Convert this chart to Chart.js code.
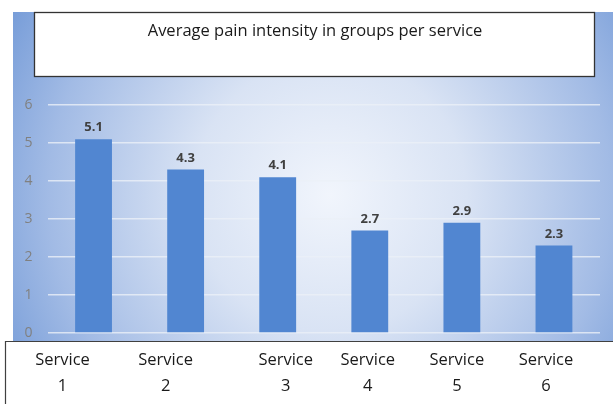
<!DOCTYPE html>
<html>
<head>
<meta charset="utf-8">
<script src="https://cdn.jsdelivr.net/npm/chart.js@4.4.1/dist/chart.umd.min.js"></script>
<style>
html,body{margin:0;padding:0;background:#fff;}
#wrap{width:613px;height:404px;position:relative;}
</style>
</head>
<body>
<div id="wrap"><canvas id="c" width="613" height="404"></canvas></div>
<script>
const titleText = "Average pain intensity in groups per service";
const categories = ["Service 1", "Service 2", "Service 3", "Service 4", "Service 5", "Service 6"];
const painValues = [5.1, 4.3, 4.1, 2.7, 2.9, 2.3];
const yTicks = [0, 1, 2, 3, 4, 5, 6];
// horizontal shift of each label in the bottom box relative to its bar (layout only)
const labelShift = [-31, -20, 8, -2, -5, -8];

const FONT = "'Open Sans', 'Liberation Sans', Arial, sans-serif";

const decor = {
  id: 'decor',
  beforeDraw(chart) {
    const ctx = chart.ctx;
    ctx.save();
    ctx.fillStyle = '#ffffff';
    ctx.fillRect(0, 0, chart.width, chart.height);
    const g = ctx.createRadialGradient(330, 195, 0, 330, 195, 390);
    g.addColorStop(0, '#f1f5fc');
    g.addColorStop(0.35, '#d9e3f4');
    g.addColorStop(0.72, '#a2bbe5');
    g.addColorStop(1, '#6c95d5');
    ctx.fillStyle = g;
    ctx.fillRect(13, 12, chart.width - 13, chart.height - 12);
    ctx.restore();
  },
  afterDraw(chart) {
    const ctx = chart.ctx;
    ctx.save();
    // title box
    ctx.fillStyle = '#ffffff';
    ctx.fillRect(34, 12, 561, 65);
    ctx.strokeStyle = '#333333';
    ctx.lineWidth = 1.3;
    ctx.strokeRect(34.5, 12.5, 560, 64);
    ctx.fillStyle = '#1a1a1a';
    ctx.font = "16.5px " + FONT;
    ctx.textAlign = 'center';
    ctx.textBaseline = 'middle';
    ctx.fillText(titleText, 315, 31);
    // bottom label box
    ctx.fillStyle = '#ffffff';
    ctx.fillRect(5, 341, chart.width - 5, chart.height - 341);
    ctx.strokeStyle = '#404040';
    ctx.lineWidth = 1.2;
    ctx.beginPath();
    ctx.moveTo(5.5, chart.height);
    ctx.lineTo(5.5, 341.5);
    ctx.lineTo(chart.width, 341.5);
    ctx.stroke();
    const meta = chart.getDatasetMeta(0);
    ctx.fillStyle = '#1a1a1a';
    ctx.font = "16.5px " + FONT;
    categories.forEach((lab, i) => {
      const x = meta.data[i].x + labelShift[i];
      const parts = lab.split(' ');
      ctx.fillText(parts[0], x, 360);
      ctx.fillText(parts[1], x, 386);
    });
    ctx.restore();
  }
};

const valueLabels = {
  id: 'valueLabels',
  afterDatasetsDraw(chart) {
    const ctx = chart.ctx;
    const meta = chart.getDatasetMeta(0);
    ctx.save();
    ctx.fillStyle = '#404040';
    ctx.font = "bold 13px " + FONT;
    ctx.textAlign = 'center';
    ctx.textBaseline = 'bottom';
    meta.data.forEach((bar, i) => {
      ctx.fillText(painValues[i].toFixed(1), bar.x, bar.y - 5);
    });
    ctx.restore();
  }
};

new Chart(document.getElementById('c'), {
  type: 'bar',
  data: {
    labels: categories,
    datasets: [{
      data: painValues,
      backgroundColor: '#5186d1',
      borderWidth: 0,
      categoryPercentage: 1,
      barPercentage: 0.4
    }]
  },
  options: {
    responsive: false,
    animation: false,
    layout: { padding: { top: 105, bottom: 71, right: 13, left: 0 } },
    plugins: { legend: { display: false }, tooltip: { enabled: false }, title: { display: false } },
    scales: {
      x: { display: false },
      y: {
        min: 0, max: 6,
        afterFit(s) { s.width = 47.5; },
        afterBuildTicks(s) { s.ticks = yTicks.map(v => ({ value: v })); },
        border: { display: false },
        grid: { color: 'rgba(235,240,248,0.8)', lineWidth: 1.5, drawTicks: false },
        ticks: { color: '#808080', font: { family: FONT, size: 14 }, padding: 15 }
      }
    }
  },
  plugins: [decor, valueLabels]
});
</script>
</body>
</html>
